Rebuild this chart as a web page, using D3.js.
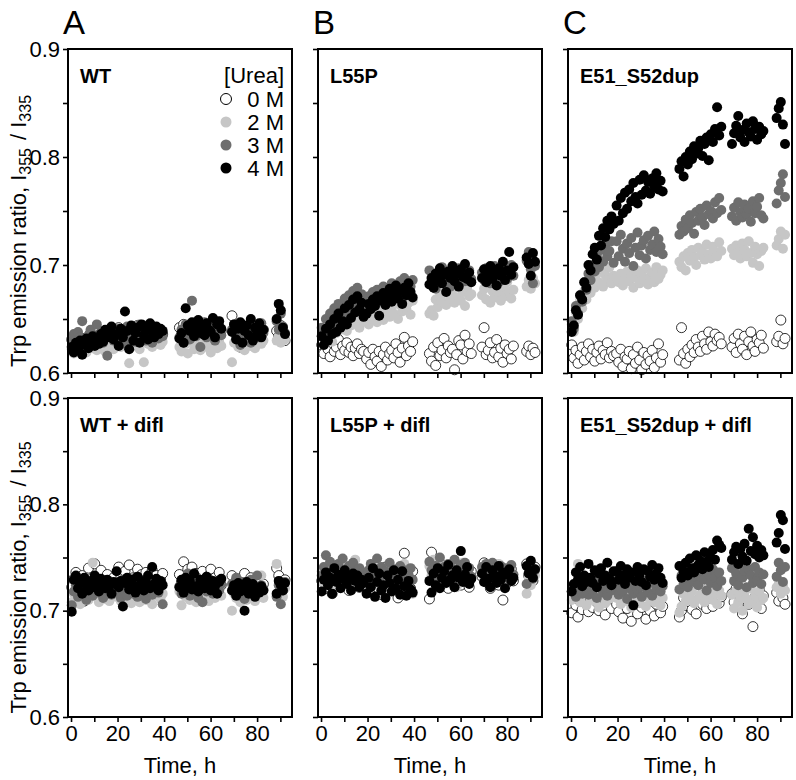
<!DOCTYPE html>
<html><head><meta charset="utf-8">
<script src="https://cdn.jsdelivr.net/npm/d3@7"></script>
<style>body{margin:0;background:#fff}</style></head>
<body><svg id="c" width="796" height="780"></svg>
<script>
// Sampling times (h), shared by all wells
const time = [0.3,1.2,2.1,3,3.9,4.8,5.7,6.6,7.5,8.4,9.3,10.2,11.1,12,12.9,13.8,14.7,15.6,16.5,17.4,18.3,
 19.6,20.5,21.4,22.3,23.2,24.1,25,25.9,26.8,27.7,28.6,29.5,30.4,31.3,32.2,33.1,34,34.9,35.8,36.7,37.6,38.5,39.4,
 46.6,47.5,48.4,49.3,50.2,51.1,52,52.9,53.8,54.7,55.6,56.5,57.4,58.3,59.2,60.1,61,61.9,62.8,63.7,64.6,
 69.2,70.1,71,71.9,72.8,73.7,74.6,75.5,76.4,77.3,78.2,79.1,80,80.9,81.8,82.7,
 88.4,89.3,90.2,91.1,92];
const ureaLabels = ["0 M","2 M","3 M","4 M"];
const xTicks = [0,10,20,30,40,50,60,70,80,90];
const yTicks = [0.6,0.65,0.7,0.75,0.8,0.85,0.9];

// WT
const WT_0M = [.631,.624,.629,.634,.626,.622,.632,.628,.626,.637,.629,.634,.625,.632,.637,.629,.631,.636,.627,.638,.633,
 .633,.642,.631,.636,.639,.628,.641,.638,.632,.630,.644,.636,.632,.640,.635,.643,.630,.638,.634,.641,.628,.639,.636,
 .642,.635,.645,.632,.639,.643,.636,.631,.641,.644,.634,.638,.646,.633,.640,.637,.642,.632,.643,.635,.639,
 .653,.640,.643,.632,.624,.641,.638,.633,.644,.636,.639,.631,.642,.637,.634,.640,
 .639,.634,.644,.637,.630];
const WT_2M = [.622,.618,.626,.630,.620,.624,.628,.619,.625,.631,.623,.627,.621,.629,.632,.624,.620,.628,.626,.630,.622,
 .628,.633,.624,.631,.636,.626,.609,.630,.634,.625,.632,.622,.629,.610,.631,.627,.635,.624,.630,.628,.633,.626,.629,
 .624,.620,.631,.627,.618,.629,.633,.622,.626,.630,.621,.628,.624,.632,.626,.619,.630,.627,.623,.629,.625,
 .610,.628,.633,.624,.630,.626,.621,.632,.628,.625,.631,.623,.629,.634,.627,.630,
 .630,.634,.628,.636,.631];
const WT_3M = [.630,.636,.628,.638,.633,.648,.631,.627,.635,.640,.629,.634,.645,.631,.637,.628,.633,.616,.639,.634,.630,
 .636,.641,.631,.638,.627,.643,.635,.632,.640,.629,.637,.645,.633,.639,.630,.642,.635,.628,.641,.636,.632,.639,.634,
 .633,.640,.628,.645,.636,.631,.667,.639,.634,.642,.624,.637,.647,.633,.640,.636,.643,.630,.638,.644,.635,
 .640,.645,.632,.638,.626,.642,.636,.631,.644,.628,.639,.635,.641,.633,.646,.637,
 .648,.640,.655,.643,.637];
const WT_4M = [.624,.619,.628,.622,.630,.617,.626,.632,.623,.629,.634,.625,.631,.627,.636,.629,.640,.633,.638,.643,.631,
 .636,.625,.641,.633,.657,.639,.622,.644,.630,.637,.642,.628,.645,.635,.640,.631,.646,.638,.633,.643,.636,.641,.639,
 .632,.637,.628,.660,.644,.639,.647,.634,.642,.649,.637,.643,.635,.646,.640,.638,.651,.633,.645,.648,.641,
 .638,.645,.631,.641,.647,.628,.639,.644,.635,.650,.630,.642,.636,.646,.633,.640,
 .650,.664,.658,.642,.636];

// L55P
const L55P_0M = [.626,.618,.630,.622,.615,.628,.620,.624,.631,.617,.625,.621,.628,.619,.624,.616,.623,.627,.618,.622,.620,
 .613,.619,.608,.622,.615,.611,.620,.606,.617,.624,.612,.618,.621,.614,.627,.619,.610,.623,.633,.616,.625,.620,.629,
 .618,.611,.624,.607,.628,.616,.621,.632,.614,.625,.619,.622,.603,.617,.630,.626,.613,.635,.620,.627,.618,
 .624,.642,.617,.621,.628,.614,.619,.631,.615,.623,.610,.626,.618,.622,.613,.625,
 .620,.625,.617,.623,.619];
const L55P_2M = [.635,.626,.641,.632,.646,.629,.649,.637,.652,.640,.645,.656,.639,.658,.644,.660,.647,.653,.642,.657,.648,
 .652,.645,.658,.650,.661,.647,.656,.663,.649,.658,.666,.652,.661,.655,.668,.650,.663,.657,.670,.659,.665,.654,.667,
 .655,.658,.653,.668,.661,.671,.666,.674,.663,.677,.669,.672,.665,.679,.670,.667,.675,.662,.678,.671,.673,
 .672,.678,.668,.681,.665,.676,.670,.683,.674,.667,.679,.671,.684,.675,.669,.677,
 .680,.686,.678,.688,.683];
const L55P_3M = [.642,.633,.650,.638,.655,.644,.660,.647,.664,.651,.658,.669,.654,.672,.660,.676,.662,.679,.666,.673,.661,
 .666,.671,.663,.675,.669,.677,.672,.668,.680,.674,.678,.671,.683,.676,.681,.673,.685,.679,.688,.676,.684,.680,.686,
 .695,.682,.690,.678,.693,.686,.698,.684,.691,.687,.680,.694,.689,.683,.697,.688,.692,.685,.690,.695,.687,
 .693,.686,.697,.689,.683,.694,.699,.688,.684,.696,.691,.698,.687,.693,.700,.690,
 .704,.712,.696,.683,.699];
const L55P_4M = [.634,.626,.641,.630,.645,.636,.650,.638,.655,.642,.648,.660,.645,.663,.651,.668,.656,.671,.659,.665,.652,
 .655,.664,.659,.668,.662,.671,.653,.667,.674,.663,.670,.678,.666,.673,.681,.669,.676,.664,.679,.672,.683,.675,.670,
 .682,.688,.679,.692,.686,.697,.683,.691,.675,.694,.688,.699,.685,.692,.680,.696,.689,.701,.687,.693,.684,
 .688,.696,.684,.692,.699,.687,.694,.681,.697,.690,.703,.686,.695,.712,.691,.698,
 .707,.701,.690,.711,.703];

// E51_S52dup
const DUP_0M = [.626,.614,.621,.609,.617,.624,.612,.620,.627,.615,.622,.611,.619,.625,.613,.621,.617,.628,.614,.620,.616,
 .618,.610,.622,.606,.615,.613,.620,.604,.617,.609,.624,.612,.603,.619,.608,.616,.611,.621,.605,.614,.627,.610,.617,
 .612,.642,.618,.609,.622,.615,.626,.619,.631,.624,.620,.634,.627,.622,.638,.629,.625,.636,.630,.633,.627,
 .624,.632,.619,.636,.627,.622,.634,.617,.629,.638,.625,.620,.631,.628,.635,.623,
 .629,.634,.649,.627,.632];
const DUP_2M = [.645,.638,.656,.650,.667,.660,.676,.668,.683,.674,.688,.679,.692,.684,.696,.680,.691,.686,.698,.683,.690,
 .689,.684,.692,.681,.687,.694,.685,.690,.679,.688,.695,.683,.691,.686,.697,.682,.689,.693,.684,.698,.687,.691,.695,
 .703,.698,.708,.695,.711,.704,.714,.707,.700,.716,.709,.712,.705,.719,.710,.706,.717,.712,.708,.721,.713,
 .715,.709,.718,.712,.706,.720,.714,.708,.722,.711,.702,.717,.710,.699,.713,.716,
 .718,.724,.731,.715,.728];
const DUP_3M = [.648,.641,.662,.655,.672,.666,.684,.677,.692,.686,.700,.694,.708,.698,.714,.703,.719,.708,.713,.722,.702,
 .722,.708,.728,.715,.703,.720,.711,.725,.699,.716,.730,.709,.718,.723,.706,.727,.714,.719,.731,.712,.724,.717,.710,
 .728,.736,.731,.742,.734,.746,.739,.729,.749,.741,.752,.744,.737,.755,.747,.750,.743,.758,.748,.762,.751,
 .745,.753,.741,.758,.749,.744,.756,.747,.752,.740,.759,.748,.754,.762,.746,.743,
 .757,.769,.776,.784,.763];
const DUP_4M = [.638,.644,.658,.654,.672,.668,.684,.679,.700,.695,.710,.716,.705,.727,.718,.734,.726,.741,.733,.745,.738,
 .755,.741,.762,.748,.767,.752,.770,.759,.776,.763,.757,.779,.765,.783,.769,.777,.766,.780,.773,.785,.770,.778,.768,
 .789,.796,.782,.800,.793,.805,.798,.810,.803,.808,.815,.801,.812,.818,.797,.821,.814,.826,.846,.820,.828,
 .812,.822,.829,.838,.818,.825,.814,.831,.823,.819,.833,.826,.816,.828,.821,.824,
 .836,.845,.851,.830,.812];

// WT + difl
const WTd_0M = [.722,.730,.736,.718,.727,.733,.709,.725,.740,.721,.731,.744,.726,.715,.738,.729,.723,.734,.728,.720,.731,
 .726,.741,.733,.719,.737,.728,.743,.724,.731,.716,.739,.727,.734,.721,.736,.711,.730,.738,.725,.733,.720,.729,.735,
 .734,.727,.746,.722,.739,.731,.741,.718,.735,.726,.710,.737,.729,.723,.733,.739,.720,.731,.727,.736,.724,
 .733,.721,.728,.716,.730,.724,.735,.719,.726,.731,.714,.727,.722,.729,.718,.725,
 .740,.733,.727,.722,.729];
const WTd_2M = [.708,.716,.712,.722,.706,.719,.713,.725,.710,.717,.745,.714,.720,.708,.723,.715,.711,.719,.709,.716,.721,
 .713,.719,.709,.722,.715,.711,.724,.707,.718,.712,.720,.708,.716,.723,.710,.717,.713,.706,.719,.714,.721,.711,.716,
 .718,.705,.721,.713,.727,.710,.716,.722,.708,.719,.714,.711,.724,.717,.709,.720,.715,.712,.723,.716,.714,
 .700,.716,.712,.721,.708,.719,.714,.710,.724,.713,.717,.709,.720,.715,.733,.712,
 .744,.725,.718,.713,.721];
const WTd_3M = [.705,.718,.724,.713,.729,.716,.722,.710,.727,.719,.714,.731,.721,.717,.725,.712,.728,.719,.723,.715,.720,
 .717,.724,.712,.729,.719,.714,.726,.720,.716,.731,.713,.722,.718,.727,.711,.724,.719,.715,.728,.721,.717,.725,.706,
 .723,.716,.729,.720,.735,.714,.726,.719,.732,.712,.724,.708,.728,.718,.730,.721,.716,.727,.722,.719,.725,
 .725,.718,.731,.714,.722,.727,.711,.724,.719,.729,.716,.721,.733,.717,.724,.720,
 .713,.724,.706,.719,.727];
const WTd_4M = [.699,.729,.733,.721,.727,.716,.731,.724,.719,.728,.722,.733,.726,.718,.730,.725,.721,.729,.723,.716,.727,
 .737,.722,.728,.704,.726,.731,.720,.729,.724,.717,.732,.723,.728,.719,.727,.733,.721,.741,.725,.730,.719,.728,.724,
 .722,.729,.717,.731,.724,.728,.720,.735,.723,.718,.729,.726,.721,.732,.725,.719,.728,.723,.716,.727,.730,
 .719,.724,.714,.726,.718,.722,.700,.727,.716,.721,.725,.713,.720,.717,.723,.719,
 .716,.728,.724,.719,.726];

// L55P + difl
const L55Pd_0M = [.728,.735,.721,.740,.732,.716,.738,.726,.743,.730,.724,.737,.729,.719,.734,.741,.727,.733,.722,.736,.731,
 .725,.732,.718,.739,.727,.722,.735,.715,.730,.741,.724,.733,.720,.728,.736,.712,.731,.726,.754,.729,.734,.721,.737,
 .711,.755,.730,.739,.725,.734,.742,.728,.736,.721,.731,.744,.727,.738,.733,.724,.740,.729,.735,.722,.737,
 .732,.745,.727,.738,.721,.735,.729,.741,.724,.733,.710,.737,.726,.730,.739,.728,
 .744,.733,.739,.728,.741];
const L55Pd_2M = [.737,.725,.731,.742,.728,.734,.720,.739,.730,.726,.744,.733,.727,.737,.722,.731,.748,.729,.735,.724,.732,
 .728,.735,.722,.740,.731,.726,.737,.719,.733,.729,.741,.724,.734,.738,.727,.721,.736,.730,.744,.726,.733,.729,.716,
 .742,.733,.748,.727,.738,.731,.744,.725,.736,.741,.729,.734,.739,.722,.737,.732,.745,.728,.735,.740,.730,
 .736,.728,.742,.731,.725,.739,.733,.727,.744,.730,.736,.722,.738,.732,.729,.734,
 .716,.730,.724,.739,.733];
const L55Pd_3M = [.733,.741,.752,.728,.746,.736,.739,.731,.744,.727,.749,.738,.734,.742,.729,.745,.737,.733,.740,.725,.736,
 .731,.738,.744,.727,.735,.749,.730,.741,.724,.737,.733,.745,.728,.739,.735,.722,.742,.731,.738,.726,.734,.740,.729,
 .746,.738,.733,.742,.729,.750,.736,.741,.727,.744,.734,.739,.748,.731,.737,.743,.730,.745,.735,.740,.732,
 .741,.736,.744,.730,.739,.745,.733,.738,.727,.742,.735,.740,.731,.737,.743,.734,
 .725,.736,.742,.730,.738];
const L55Pd_4M = [.718,.729,.736,.724,.731,.716,.740,.727,.734,.721,.730,.738,.725,.732,.719,.735,.728,.733,.722,.729,.726,
 .716,.731,.722,.740,.713,.727,.735,.719,.724,.712,.733,.726,.718,.738,.721,.729,.715,.737,.723,.714,.728,.720,.717,
 .728,.717,.735,.724,.740,.721,.731,.737,.726,.743,.729,.733,.722,.738,.731,.756,.727,.734,.741,.725,.730,
 .735,.727,.741,.730,.722,.738,.733,.726,.742,.729,.736,.721,.734,.739,.728,.731,
 .742,.735,.747,.731,.739];

// E51_S52dup + difl
const DUPd_0M = [.698,.712,.705,.694,.709,.701,.715,.706,.699,.711,.703,.717,.708,.700,.713,.704,.696,.710,.707,.702,.712,
 .706,.699,.713,.693,.708,.702,.716,.690,.705,.711,.697,.709,.703,.714,.692,.707,.700,.712,.695,.706,.710,.698,.704,
 .694,.700,.712,.705,.716,.708,.701,.714,.697,.710,.718,.706,.713,.702,.709,.715,.704,.711,.719,.707,.713,
 .716,.708,.721,.704,.712,.697,.718,.710,.706,.715,.685,.713,.709,.720,.702,.714,
 .717,.709,.720,.712,.706];
const DUPd_2M = [.710,.716,.722,.744,.708,.714,.719,.705,.717,.712,.721,.709,.715,.703,.718,.713,.707,.720,.711,.716,.714,
 .712,.718,.706,.715,.721,.709,.713,.703,.717,.711,.720,.707,.714,.719,.704,.716,.710,.722,.708,.713,.717,.705,.712,
 .698,.704,.716,.709,.721,.713,.718,.707,.724,.711,.715,.720,.708,.717,.712,.722,.710,.716,.706,.719,.714,
 .715,.702,.719,.708,.713,.700,.717,.711,.706,.721,.709,.714,.703,.718,.710,.712,
 .722,.728,.716,.724,.719];
const DUPd_3M = [.718,.724,.713,.729,.720,.716,.732,.722,.715,.727,.719,.725,.712,.730,.721,.717,.726,.714,.723,.719,.728,
 .722,.715,.729,.718,.724,.711,.727,.720,.716,.731,.719,.723,.713,.728,.721,.717,.726,.714,.730,.720,.725,.718,.723,
 .720,.733,.725,.738,.722,.730,.735,.727,.741,.724,.732,.737,.729,.719,.734,.726,.739,.731,.723,.736,.728,
 .740,.728,.735,.724,.743,.731,.737,.722,.739,.733,.726,.741,.729,.736,.725,.734,
 .732,.745,.738,.727,.741];
const DUPd_4M = [.718,.725,.736,.729,.741,.723,.733,.727,.744,.731,.726,.738,.722,.735,.740,.728,.733,.745,.730,.724,.737,
 .737,.729,.742,.733,.725,.739,.731,.736,.705,.728,.741,.734,.727,.739,.724,.737,.732,.743,.729,.735,.740,.731,.726,
 .742,.731,.737,.745,.733,.749,.740,.736,.752,.743,.747,.739,.755,.746,.741,.750,.757,.748,.766,.762,.759,
 .748,.755,.760,.744,.758,.751,.763,.747,.777,.756,.769,.753,.761,.750,.757,.752,
 .764,.773,.790,.785,.758];

const panels = [
  {letter:"A", title:"WT",          col:0, row:0, series:[WT_0M, WT_2M, WT_3M, WT_4M]},
  {letter:"B", title:"L55P",        col:1, row:0, series:[L55P_0M, L55P_2M, L55P_3M, L55P_4M]},
  {letter:"C", title:"E51_S52dup",  col:2, row:0, series:[DUP_0M, DUP_2M, DUP_3M, DUP_4M]},
  {letter:"",  title:"WT + difl",   col:0, row:1, series:[WTd_0M, WTd_2M, WTd_3M, WTd_4M]},
  {letter:"",  title:"L55P + difl", col:1, row:1, series:[L55Pd_0M, L55Pd_2M, L55Pd_3M, L55Pd_4M]},
  {letter:"",  title:"E51_S52dup + difl", col:2, row:1, series:[DUPd_0M, DUPd_2M, DUPd_3M, DUPd_4M]}
];

const fills = ["#ffffff","#c6c6c6","#6e6e6e","#000000"];
const FONT = "'Liberation Sans', Arial, Helvetica, sans-serif";
const lefts = [68, 318, 568], W = 224;
const rowsY = [[49, 373], [398, 717]];
const R = 5;

const svg = d3.select("#c").style("font-family", FONT);

panels.forEach(p => {
  const x0 = lefts[p.col];
  const [yt, yb] = rowsY[p.row];
  const x = d3.scaleLinear().domain([-1.3, 95]).range([x0, x0 + W]);
  const y = d3.scaleLinear().domain([0.6, 0.9]).range([yb, yt]);
  const g = svg.append("g");

  p.series.forEach((s, i) => {
    g.append("g").selectAll("circle").data(s.slice(0, time.length)).join("circle")
      .attr("cx", (d, j) => x(time[j])).attr("cy", d => y(d)).attr("r", R)
      .attr("fill", fills[i])
      .attr("stroke", i === 0 ? "#000" : "none").attr("stroke-width", 0.8);
  });

  const xa = d3.axisBottom(x).tickValues(xTicks).tickSize(5).tickPadding(3)
    .tickFormat(d => (p.row === 1 && d % 20 === 0) ? d : "");
  const gx = g.append("g").attr("transform", `translate(0,${yb})`).call(xa);
  const ya = d3.axisLeft(y).tickValues(yTicks).tickSize(5).tickPadding(3)
    .tickFormat(d => (p.col === 0 && Math.abs(d * 10 - Math.round(d * 10)) < 1e-6) ? d3.format(".1f")(d) : "");
  const gy = g.append("g").attr("transform", `translate(${x0},0)`).call(ya);
  [gx, gy].forEach(a => {
    a.select(".domain").remove();
    a.selectAll(".tick line").attr("stroke", "#000").attr("stroke-width", 1.6);
    a.selectAll(".tick text").attr("fill", "#000").style("font-size", "22px").style("font-family", FONT);
  });

  g.append("rect").attr("x", x0).attr("y", yt).attr("width", W).attr("height", yb - yt)
    .attr("fill", "none").attr("stroke", "#000").attr("stroke-width", 2);

  g.append("text").attr("x", x0 + 12).attr("y", yt + 34).text(p.title)
    .style("font-size", "20px").style("font-weight", "bold");

  if (p.letter) {
    svg.append("text").attr("x", x0 - 5).attr("y", 34).text(p.letter).style("font-size", "33px");
  }
  if (p.row === 1) {
    svg.append("text").attr("x", x0 + W / 2).attr("y", 773).attr("text-anchor", "middle")
      .text("Time, h").style("font-size", "22px");
  }
  if (p.col === 0) {
    const t = svg.append("text").attr("transform", `translate(26,${(yt + yb) / 2 + 20}) rotate(-90)`)
      .attr("text-anchor", "middle").style("font-size", "22px");
    t.append("tspan").text("Trp emission ratio, I");
    t.append("tspan").attr("dy", 5).style("font-size", "16px").text("355");
    t.append("tspan").attr("dy", -5).attr("dx", 8).text("/ I");
    t.append("tspan").attr("dy", 5).style("font-size", "16px").text("335");
  }
  if (p.col === 0 && p.row === 0) {
    const lx = x0 + W - 8;
    g.append("text").attr("x", lx).attr("y", yt + 34).attr("text-anchor", "end")
      .text("[Urea]").style("font-size", "22px");
    ureaLabels.forEach((lab, i) => {
      const ly = yt + 58 + i * 23;
      g.append("circle").attr("cx", x0 + 158).attr("cy", ly - 8).attr("r", R + 0.5)
        .attr("fill", fills[i]).attr("stroke", i === 0 ? "#000" : "none").attr("stroke-width", 1);
      g.append("text").attr("x", lx).attr("y", ly).attr("text-anchor", "end").text(lab)
        .style("font-size", "22px");
    });
  }
});
</script>
</body></html>
